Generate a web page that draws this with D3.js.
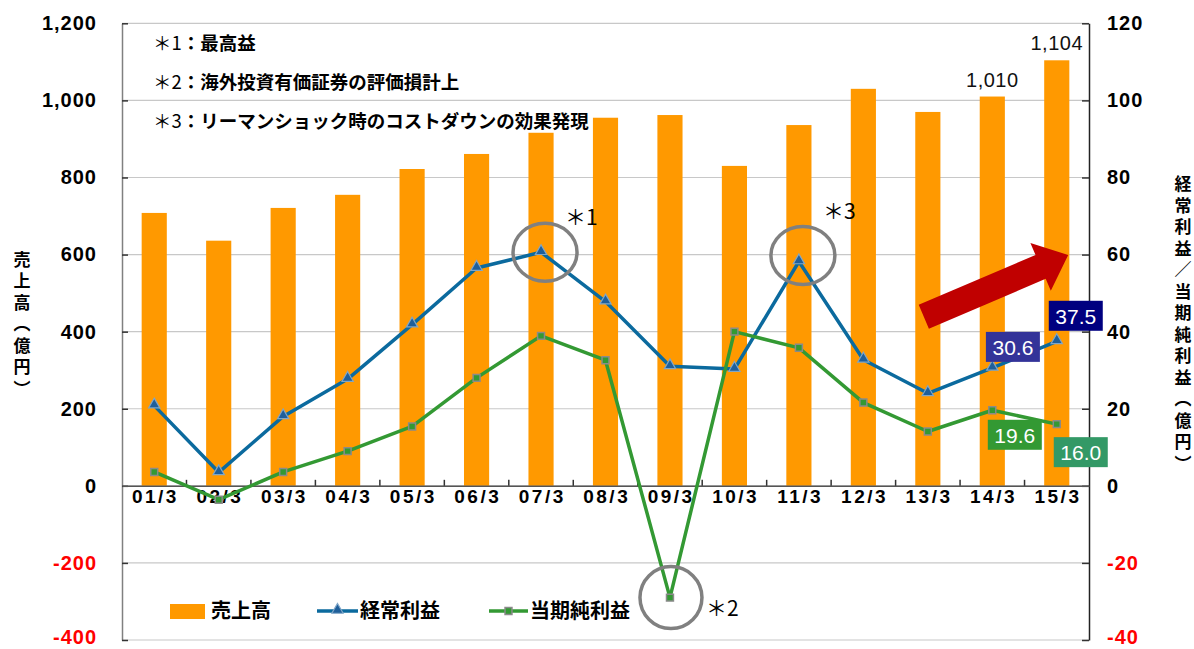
<!DOCTYPE html>
<html><head><meta charset="utf-8">
<script src="https://cdn.jsdelivr.net/npm/d3@7"></script>
<style>
body{margin:0;background:#fff;}
svg{display:block;}
</style></head>
<body>
<svg id="chart" width="1194" height="649"></svg>
<script>
// ---------- data ----------
const categories = ["01/3","02/3","03/3","04/3","05/3","06/3","07/3","08/3","09/3","10/3","11/3","12/3","13/3","14/3","15/3"];
const sales = [708, 636, 721, 755, 822, 861, 916, 955, 962, 830, 936, 1030, 970, 1010, 1104];
const ordinaryProfit = [20.8, 3.5, 18.0, 27.7, 41.8, 56.5, 60.6, 47.8, 31.0, 30.3, 58.2, 32.7, 24.0, 30.6, 37.5];
const netProfit = [3.6, -3.6, 3.6, 9.0, 15.4, 28.0, 38.9, 32.6, -29.0, 40.0, 35.8, 21.6, 14.1, 19.6, 16.0];
const leftTicks = [-400, -200, 0, 200, 400, 600, 800, 1000, 1200];
const leftTickLabels = ["-400", "-200", "0", "200", "400", "600", "800", "1,000", "1,200"];
const rightTicks = [-40, -20, 0, 20, 40, 60, 80, 100, 120];
const rightTickLabels = ["-40", "-20", "0", "20", "40", "60", "80", "100", "120"];
const seriesNames = ["売上高", "経常利益", "当期純利益"];
const axisTitles = ["売上高（億円）", "経常利益／当期純利益（億円）"];
const notes = [["＊1", "：最高益"], ["＊2", "：海外投資有価証券の評価損計上"], ["＊3", "：リーマンショック時のコストダウンの効果発現"]];

// ---------- layout ----------
const svg = d3.select("#chart");
const L = 122, R = 1089, T = 23.3, B = 640;
const numFont = "'Liberation Sans', Arial, sans-serif";
const jpFont = "'Noto Sans CJK JP', 'Noto Sans', sans-serif";
const cOrange = "#FF9900", cBlue = "#0B6A9E", cGreen = "#339933";

const x = d3.scaleBand().domain(categories).range([L, R]).paddingInner(0.61).paddingOuter(0.305);
const yL = d3.scaleLinear().domain([-400, 1200]).range([B, T]);
const yR = d3.scaleLinear().domain([-40, 120]).range([B, T]);
const cx = c => x(c) + x.bandwidth() / 2;

// gridlines
svg.append("g").selectAll("line").data(leftTicks).join("line")
  .attr("x1", L).attr("x2", R).attr("y1", d => yL(d)).attr("y2", d => yL(d))
  .attr("stroke", "#C8C8C8").attr("stroke-width", 1.2);

// bars
svg.append("g").selectAll("rect").data(sales).join("rect")
  .attr("x", (d, i) => x(categories[i])).attr("width", x.bandwidth())
  .attr("y", d => yL(d)).attr("height", d => yL(0) - yL(d))
  .attr("fill", cOrange);

// bar value labels (last two)
svg.append("g").selectAll("text").data([13, 14]).join("text")
  .attr("x", i => cx(categories[i])).attr("y", i => yL(sales[i]) - 10)
  .attr("text-anchor", "middle").attr("font-family", numFont).attr("font-size", 20)
  .attr("letter-spacing", 0.5).attr("fill", "#111").text(i => d3.format(",")(sales[i]));

// left axis
const axL = d3.axisLeft(yL).tickValues(leftTicks).tickSizeInner(-6).tickSizeOuter(0).tickPadding(25)
  .tickFormat((d, i) => leftTickLabels[i]);
const gL = svg.append("g").attr("transform", `translate(${L},0)`).call(axL);
gL.select(".domain").attr("stroke", "#808080").attr("stroke-width", 1.5);
gL.selectAll(".tick line").attr("stroke", "#333").attr("stroke-width", 1.5);
gL.selectAll("text").attr("font-family", numFont).attr("font-size", 20).attr("font-weight", "bold")
  .attr("letter-spacing", 1).attr("fill", d => d < 0 ? "#FF0000" : "#000")
  .attr("dy", d => d === -400 ? "0.16em" : "0.32em");

// right axis
const axR = d3.axisRight(yR).tickValues(rightTicks).tickSizeInner(-7).tickSizeOuter(0).tickPadding(18)
  .tickFormat((d, i) => rightTickLabels[i]);
const gR = svg.append("g").attr("transform", `translate(${R},0)`).call(axR);
gR.select(".domain").attr("stroke", "#222").attr("stroke-width", 1.5);
gR.selectAll(".tick line").attr("stroke", "#333").attr("stroke-width", 1.5);
gR.selectAll("text").attr("font-family", numFont).attr("font-size", 20).attr("font-weight", "bold")
  .attr("letter-spacing", 1).attr("fill", d => d < 0 ? "#FF0000" : "#000")
  .attr("dy", d => d === -40 ? "0.16em" : "0.32em");

// x axis
const y0 = yL(0);
const gX = svg.append("g").attr("transform", `translate(0,${y0})`)
  .call(d3.axisBottom(x).tickSize(0).tickPadding(4));
gX.select(".domain").attr("stroke", "#555").attr("stroke-width", 1.5);
gX.selectAll("text").attr("font-family", numFont).attr("font-size", 19).attr("font-weight", "bold")
  .attr("letter-spacing", 2.5).attr("fill", "#000").attr("dx", 1.2);
const step = x.step(), gap = step - x.bandwidth();
svg.append("g").selectAll("line").data(categories.slice(1)).join("line")
  .attr("x1", c => x(c) - gap / 2).attr("x2", c => x(c) - gap / 2)
  .attr("y1", y0 - 6).attr("y2", y0).attr("stroke", "#333").attr("stroke-width", 1.5);

// lines
const lineGen = d3.line().x((d, i) => cx(categories[i])).y(d => yR(d));
svg.append("path").datum(ordinaryProfit).attr("d", lineGen)
  .attr("fill", "none").attr("stroke", cBlue).attr("stroke-width", 3.5).attr("stroke-linejoin", "round");
svg.append("path").datum(netProfit).attr("d", lineGen)
  .attr("fill", "none").attr("stroke", cGreen).attr("stroke-width", 3.5).attr("stroke-linejoin", "round");

const tri = d3.symbol().type(d3.symbolTriangle).size(55);
const sq = d3.symbol().type(d3.symbolSquare).size(48);
svg.append("g").selectAll("path").data(ordinaryProfit).join("path")
  .attr("d", tri).attr("transform", (d, i) => `translate(${cx(categories[i])},${yR(d) - 1})`)
  .attr("fill", "#1F5F9A").attr("stroke", "#7FA6C8").attr("stroke-width", 1.2);
svg.append("g").selectAll("path").data(netProfit).join("path")
  .attr("d", sq).attr("transform", (d, i) => `translate(${cx(categories[i])},${yR(d)})`)
  .attr("fill", cGreen).attr("stroke", "#8A8A8A").attr("stroke-width", 1.5);

// data label boxes
const boxes = [
  {s: ordinaryProfit, i: 13, dx: 20.6, dy: -21, fill: "#333399"},
  {s: ordinaryProfit, i: 14, dx: 19, dy: -25.5, fill: "#000080"},
  {s: netProfit, i: 13, dx: 22.5, dy: 24.5, fill: "#339933"},
  {s: netProfit, i: 14, dx: 24, dy: 28, fill: "#339966"}
];
const gb = svg.append("g").selectAll("g").data(boxes).join("g")
  .attr("transform", b => `translate(${cx(categories[b.i]) + b.dx},${yR(b.s[b.i]) + b.dy})`);
gb.append("rect").attr("x", -27).attr("y", -15).attr("width", 54).attr("height", 30).attr("fill", b => b.fill);
gb.append("text").attr("text-anchor", "middle").attr("y", 8).attr("font-family", numFont)
  .attr("font-size", 21).attr("fill", "#fff").text(b => b.s[b.i].toFixed(1));

// circles & marks
const marks = [
  {i: 6, s: ordinaryProfit, ox: 4, oy: 0, rx: 32, ry: 29, label: "＊1", lx: 20, ly: -27},
  {i: 10, s: ordinaryProfit, ox: 4, oy: -6, rx: 32, ry: 29, label: "＊3", lx: 20, ly: -37},
  {i: 8, s: netProfit, ox: 1, oy: 0, rx: 31, ry: 31, label: "＊2", lx: 35, ly: 18}
];
const gm = svg.append("g").selectAll("g").data(marks).join("g")
  .attr("transform", m => `translate(${cx(categories[m.i]) + m.ox},${yR(m.s[m.i]) + m.oy})`);
gm.append("ellipse").attr("rx", m => m.rx).attr("ry", m => m.ry)
  .attr("fill", "none").attr("stroke", "#808080").attr("stroke-width", 3.5);
gm.append("text").attr("x", m => m.lx).attr("y", m => m.ly)
  .attr("font-family", jpFont).attr("font-size", 21).attr("fill", "#000").text(m => m.label);

// red arrow
const AL = 157, AH = 30, aw = 13, hw = 26;
svg.append("polygon")
  .attr("points", [[0, -aw], [AL - AH, -aw], [AL - AH, -hw], [AL, 0], [AL - AH, hw], [AL - AH, aw], [0, aw]].map(p => p.join(",")).join(" "))
  .attr("transform", "translate(923.8,316.7) rotate(-23.1)")
  .attr("fill", "#C00000");

// notes
const gn = svg.append("g").selectAll("text").data(notes).join("text")
  .attr("x", 153).attr("y", (d, i) => 50 + i * 39)
  .attr("font-family", jpFont).attr("font-size", 18.5).attr("fill", "#000");
gn.append("tspan").attr("font-weight", "normal").text(d => d[0]);
gn.append("tspan").attr("font-weight", "bold").text(d => d[1]);

// legend
const lg = svg.append("g").attr("font-family", jpFont).attr("font-size", 20).attr("font-weight", "bold");
lg.append("rect").attr("x", 170).attr("y", 604).attr("width", 35).attr("height", 15).attr("fill", cOrange);
lg.append("text").attr("x", 211).attr("y", 618).text(seriesNames[0]);
lg.append("line").attr("x1", 317).attr("x2", 358).attr("y1", 611).attr("y2", 611).attr("stroke", cBlue).attr("stroke-width", 3.5);
lg.append("path").attr("d", tri).attr("transform", "translate(337.5,610)").attr("fill", "#1F5F9A").attr("stroke", "#7FA6C8").attr("stroke-width", 1.2);
lg.append("text").attr("x", 360).attr("y", 618).text(seriesNames[1]);
lg.append("line").attr("x1", 489).attr("x2", 528).attr("y1", 611).attr("y2", 611).attr("stroke", cGreen).attr("stroke-width", 3.5);
lg.append("path").attr("d", sq).attr("transform", "translate(508.5,611)").attr("fill", cGreen).attr("stroke", "#8A8A8A").attr("stroke-width", 1.5);
lg.append("text").attr("x", 530).attr("y", 618).text(seriesNames[2]);

// axis titles (vertical writing)
function vtitle(txt, xc, yc) {
  svg.append("text")
    .attr("x", xc).attr("y", yc)
    .attr("text-anchor", "middle")
    .style("writing-mode", "vertical-rl").style("text-orientation", "upright")
    .attr("font-family", jpFont).attr("font-size", 17).attr("font-weight", "bold")
    .attr("letter-spacing", 4.5).attr("fill", "#000").text(txt);
}
vtitle(axisTitles[0], 22, 326);
vtitle(axisTitles[1], 1183, 326);
</script>
</body></html>
